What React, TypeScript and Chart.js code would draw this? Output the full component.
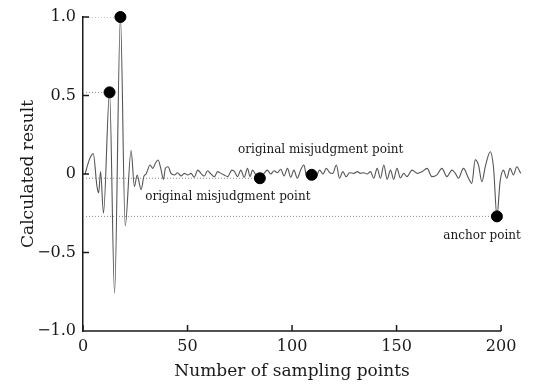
import React, { useEffect, useRef } from "react";
import { Chart, registerables } from "chart.js";

Chart.register(...registerables);

const sampleX = [
  1, 3, 4.9, 6.7, 7.5, 8.4, 9.8, 12.7, 15.1, 17.9, 20.2, 23, 24.6, 25.9, 27.8, 29.1, 30.2,
  32.1, 33.4, 34.6, 35.9, 37.2, 38.5, 39.4, 40.7, 42.1, 43.7, 45.3, 46.9, 48.5, 50.1, 51.7,
  53.2, 54.9, 56.4, 58, 59.6, 61.2, 62.8, 64.4, 66, 67.5, 69.2, 71.2, 72.5, 73.9, 75.5, 77.1,
  78.7, 79.9, 81.1, 82.7, 84.6, 86.6, 88.2, 89.8, 91.4, 93, 94.6, 96.2, 97.8, 99.4, 100.9,
  102.5, 104.1, 105.7, 107, 109.4, 111, 113.2, 114.8, 116.4, 118, 119.5, 121.2, 122.7, 124.3,
  125.9, 127.5, 129.6, 131.2, 132.7, 134.3, 135.9, 137.5, 139.1, 140.7, 142.3, 143.9, 145.5,
  147.1, 148.6, 150.2, 151.8, 153.4, 155, 157.4, 159.8, 162.2, 164.6, 166.9, 169.3, 171.7,
  174.1, 176.5, 178.1, 179.6, 182, 184.4, 186, 187.6, 189.2, 190.8, 192.5, 194.8, 196.4, 198,
  199.5, 201.1, 202.7, 204.3, 205.9, 207.5, 209.4,
];
const sampleY = [
  0.0, 0.09, 0.13, -0.08, -0.12, 0.015, -0.25, 0.52, -0.76, 1.0, -0.33, 0.15, -0.08, -0.006, -0.1, -0.017, 0.0,
  0.057, 0.036, 0.068, 0.089, 0.036, -0.034, 0.036, 0.046, 0.004, -0.006, 0.008, -0.013, 0.004, -0.006, 0.004,
  -0.021, 0.025, 0.004, -0.013, 0.021, 0.0, -0.017, 0.015, 0.004, -0.006, -0.017, 0.025, 0.015, -0.017, 0.025, -0.021,
  0.036, -0.017, 0.025, -0.006, -0.027, 0.004, 0.025, 0.0, 0.021, 0.008, 0.03, -0.013, 0.036, -0.021, 0.025,
  -0.027, 0.025, 0.057, -0.017, -0.005, -0.03, 0.025, 0.0, 0.036, 0.008, 0.004, 0.057, -0.027, 0.015,
  -0.017, 0.008, 0.004, 0.015, 0.004, 0.008, 0.0, 0.015, -0.027, 0.036, -0.027, 0.057, -0.034,
  0.025, -0.034, 0.036, -0.025, 0.004, -0.017, 0.025, 0.004, 0.015, 0.036, -0.017, -0.006, 0.036,
  -0.017, 0.025, 0.004, -0.027, 0.036, -0.027, -0.06, 0.09, 0.057, -0.049, 0.05, 0.142, 0.038, -0.27,
  -0.05, 0.025, -0.027, 0.036, -0.006, 0.046, 0.004,
];

// Highlighted points
const markX = [12.7, 17.9, 84.6, 109.4, 198];
const markY = [0.52, 1.0, -0.027, -0.005, -0.27];
// Which marks get a dotted guide back to the y axis
const guideMarks = [0, 1, 2, 4];

// Axis ticks
const xTicks = [0, 50, 100, 150, 200];
const xScaleMax = 210; // curve runs a little past the last tick
const yTicks = [-1, -0.5, 0, 0.5, 1];
const yTickLabels = ["−1.0", "−0.5", "0", "0.5", "1.0"];
const xTitle = "Number of sampling points";
const yTitle = "Calculated result";

// Annotations (data coordinates of text centre)
const noteText = ["original misjudgment point", "original misjudgment point", "anchor point"];
const noteX = [113.7, 69.3, 190.9];
const noteY = [0.153, -0.146, -0.395];

const FONT = "'DejaVu Serif', 'Liberation Serif', serif";
const INK = "#1a1a1a";

const decor = {
  id: "decor",
  afterDraw(chart: any) {
    const { ctx, chartArea, scales } = chart;
    const xs = scales.x;
    const ys = scales.y;
    const x0 = xs.getPixelForValue(xTicks[0]);
    const x1 = xs.getPixelForValue(xTicks[xTicks.length - 1]);
    ctx.save();
    ctx.strokeStyle = INK;
    ctx.lineWidth = 1.5;
    ctx.beginPath();
    // x axis line, ending at the last tick
    ctx.moveTo(x0, chartArea.bottom);
    ctx.lineTo(x1, chartArea.bottom);
    xTicks.forEach((v) => {
      const px = xs.getPixelForValue(v);
      ctx.moveTo(px, chartArea.bottom);
      ctx.lineTo(px, chartArea.bottom - 6);
    });
    yTicks.forEach((v) => {
      const py = ys.getPixelForValue(v);
      ctx.moveTo(chartArea.left, py);
      ctx.lineTo(chartArea.left + 6, py);
    });
    ctx.stroke();

    ctx.fillStyle = INK;
    ctx.textAlign = "center";
    ctx.textBaseline = "middle";
    // x title centred under the drawn axis
    ctx.font = `17px ${FONT}`;
    ctx.fillText(xTitle, (x0 + x1) / 2, chartArea.bottom + 41);

    ctx.font = `12px ${FONT}`;
    noteText.forEach((t, i) => {
      ctx.fillText(t, xs.getPixelForValue(noteX[i]), ys.getPixelForValue(noteY[i]));
    });
    ctx.restore();
  },
};

export default function App() {
  const ref = useRef<HTMLCanvasElement | null>(null);

  useEffect(() => {
    if (!ref.current) return;
    const curve = sampleX.map((x, i) => ({ x, y: sampleY[i] }));
    const marks = markX.map((x, i) => ({ x, y: markY[i] }));
    const guides = guideMarks.map((m) => ({
      type: "line" as const,
      data: [
        { x: 0, y: markY[m] },
        { x: markX[m], y: markY[m] },
      ],
      borderColor: "#8a8a8a",
      borderWidth: 1,
      borderDash: [1, 2],
      pointRadius: 0,
      order: 3,
    }));

    const chart = new Chart(ref.current, {
      type: "line",
      data: {
        datasets: [
          {
            type: "scatter" as const,
            data: marks,
            backgroundColor: "#000",
            borderColor: "#000",
            pointRadius: 5.5,
            pointHoverRadius: 5.5,
            clip: false as any,
            order: 1,
          } as any,
          {
            type: "line" as const,
            data: curve,
            borderColor: "#555",
            borderWidth: 1.1,
            pointRadius: 0,
            cubicInterpolationMode: "monotone",
            clip: false as any,
            order: 2,
          } as any,
          ...guides,
        ],
      },
      options: {
        animation: false,
        responsive: false,
        devicePixelRatio: 1,
        layout: { padding: { top: 17, right: 21, bottom: 0, left: 0 } },
        plugins: {
          legend: { display: false },
          tooltip: { enabled: false },
          title: { display: false },
        },
        scales: {
          x: {
            type: "linear",
            min: xTicks[0],
            max: xScaleMax,
            afterBuildTicks: (s: any) => {
              s.ticks = xTicks.map((v) => ({ value: v }));
            },
            afterFit: (s: any) => {
              s.height = 55;
            },
            grid: { display: false, drawTicks: false },
            border: { display: false },
            ticks: {
              color: INK,
              font: { family: FONT, size: 16 },
              padding: 6,
              maxRotation: 0,
            },
            title: { display: false },
          },
          y: {
            type: "linear",
            min: -1,
            max: 1,
            afterBuildTicks: (s: any) => {
              s.ticks = yTicks.map((v) => ({ value: v }));
            },
            afterFit: (s: any) => {
              s.width = 83;
            },
            grid: { display: false, drawTicks: false },
            border: { display: true, color: INK, width: 1.5 },
            ticks: {
              color: INK,
              font: { family: FONT, size: 16 },
              padding: 7,
              callback: (v: any) => {
                const i = yTicks.indexOf(Number(v));
                return i >= 0 ? yTickLabels[i] : "";
              },
            },
            title: {
              display: true,
              text: yTitle,
              color: INK,
              font: { family: FONT, size: 17 },
              padding: { top: 18, bottom: 0 },
            },
          },
        },
      },
      plugins: [decor],
    });
    return () => chart.destroy();
  }, []);

  return (
    <div style={{ position: "fixed", left: 0, top: 0, width: 543, height: 386, background: "#fff" }}>
      <canvas ref={ref} width={543} height={386} style={{ display: "block" }} />
    </div>
  );
}
